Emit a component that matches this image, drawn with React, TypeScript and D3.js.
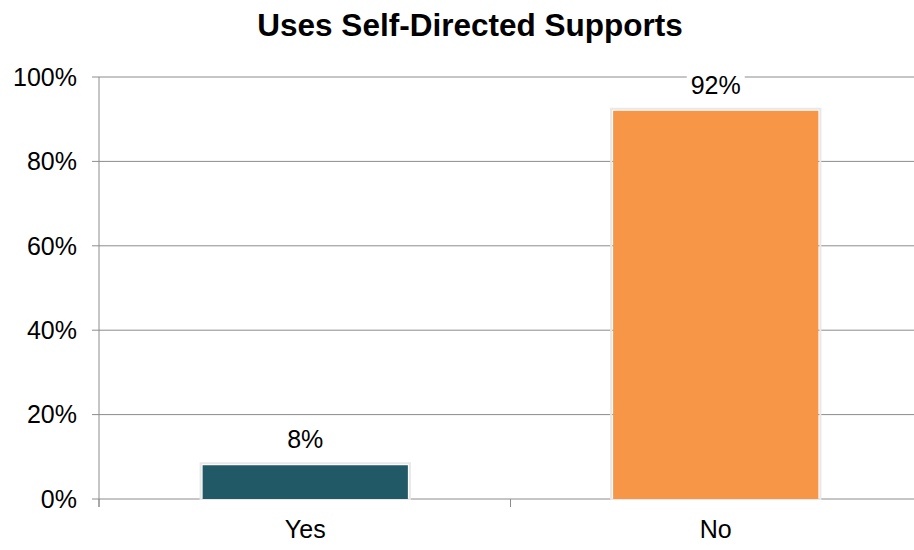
import React from "react";
import * as d3 from "d3";

const categories = ["Yes", "No"];
const values = [0.08, 0.92];
const valueLabels = ["8%", "92%"];
const barColors = ["#225967", "#F79646"];
const yTicks = [0, 0.2, 0.4, 0.6, 0.8, 1.0];
const title = "Uses Self-Directed Supports";

const W = 914;
const H = 550;
const left = 100;
const right = 921;
const top = 77;
const bottom = 499;
const font = "Arial, 'Liberation Sans', sans-serif";

export default function App() {
  const x = d3.scaleBand<string>().domain(categories).range([left, right]).padding(0);
  const y = d3.scaleLinear().domain([0, 1]).range([bottom, top]);
  const bw = x.bandwidth() * 0.5;
  const fmt = d3.format(".0%");

  return (
    <svg width={W} height={H} style={{ position: "absolute", left: 0, top: 0, background: "#fff" }}>
      <rect x={0} y={0} width={W} height={H} fill="#fff" />
      <text x={470} y={36} textAnchor="middle" fontFamily={font} fontWeight="bold" fontSize={31.5} fill="#000">
        {title}
      </text>
      {yTicks.map((t) => (
        <g key={t}>
          <line x1={left - 8} x2={right} y1={y(t)} y2={y(t)} stroke="#8c8c8c" strokeWidth={1} />
          <text x={77} y={y(t)} dy="0.35em" textAnchor="end" fontFamily={font} fontSize={25} fill="#000">
            {fmt(t)}
          </text>
        </g>
      ))}
      <line x1={left - 1} x2={left - 1} y1={top} y2={bottom + 8} stroke="#8c8c8c" strokeWidth={1} />
      {[left, left + x.step(), right].map((v, i) => (
        <line key={i} x1={v - (i === 0 ? 1 : 0)} x2={v - (i === 0 ? 1 : 0)} y1={bottom} y2={bottom + 8} stroke="#8c8c8c" strokeWidth={1} />
      ))}
      {categories.map((c, i) => {
        const cx = (x(c) as number) + x.bandwidth() / 2;
        const bx = cx - bw / 2;
        const by = y(values[i]);
        const lw = valueLabels[i].length * 14 + 16;
        return (
          <g key={c}>
            <rect x={bx - 2} y={by - 2} width={bw + 4} height={bottom - by + 2} fill="none" stroke="#e8e8e8" strokeWidth={2} />
            <rect x={bx} y={by} width={bw} height={bottom - by} fill={barColors[i]} />
            <rect x={cx - lw / 2} y={by - 36} width={lw} height={30} fill="#fff" />
            <text x={cx} y={by - 17} textAnchor="middle" fontFamily={font} fontSize={25} fill="#000">
              {valueLabels[i]}
            </text>
            <text x={cx} y={538} textAnchor="middle" fontFamily={font} fontSize={25} fill="#000">
              {c}
            </text>
          </g>
        );
      })}
    </svg>
  );
}
